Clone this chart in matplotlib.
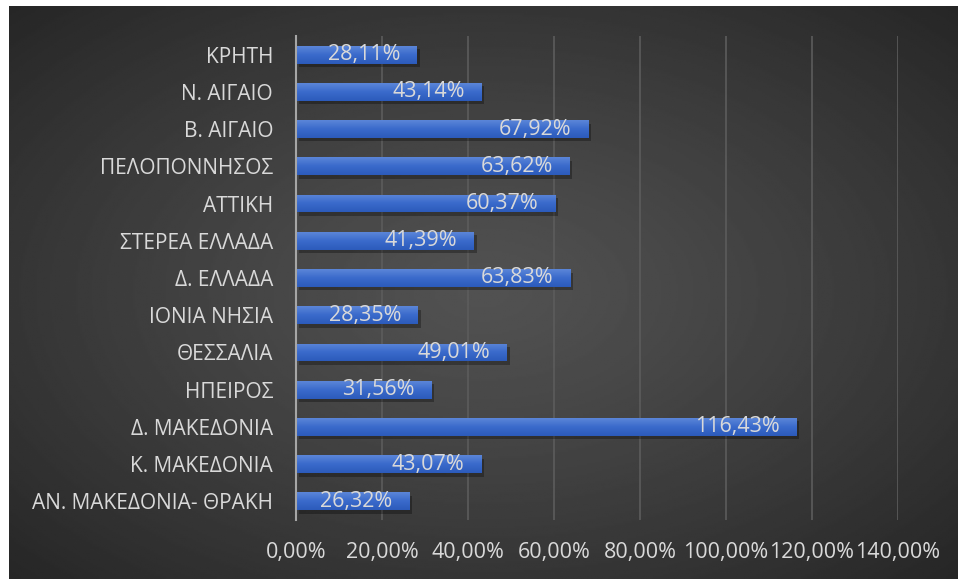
import numpy as np
import matplotlib.pyplot as plt
from matplotlib import patheffects as pe
from matplotlib.colors import LinearSegmentedColormap

regions = [
    "ΑΝ. ΜΑΚΕΔΟΝΙΑ- ΘΡΑΚΗ",
    "Κ. ΜΑΚΕΔΟΝΙΑ",
    "Δ. ΜΑΚΕΔΟΝΙΑ",
    "ΗΠΕΙΡΟΣ",
    "ΘΕΣΣΑΛΙΑ",
    "ΙΟΝΙΑ ΝΗΣΙΑ",
    "Δ. ΕΛΛΑΔΑ",
    "ΣΤΕΡΕΑ ΕΛΛΑΔΑ",
    "ΑΤΤΙΚΗ",
    "ΠΕΛΟΠΟΝΝΗΣΟΣ",
    "Β. ΑΙΓΑΙΟ",
    "Ν. ΑΙΓΑΙΟ",
    "ΚΡΗΤΗ",
]
values = [26.32, 43.07, 116.43, 31.56, 49.01, 28.35, 63.83, 41.39, 60.37, 63.62, 67.92, 43.14, 28.11]
xticks = [0, 20, 40, 60, 80, 100, 120, 140]

plt.rcParams["font.family"] = ["Open Sans", "DejaVu Sans"]

W, H = 958, 579
fig = plt.figure(figsize=(W / 100, H / 100), dpi=100)
fig.patch.set_facecolor("white")

# radial gradient background (dark area starts at x=9, y=6)
bg = fig.add_axes([9 / W, 0, 1 - 9 / W, 1 - 6 / H])
bg.set_axis_off()
yy, xx = np.mgrid[-1:1:300j, -1:1:500j]
r = np.sqrt(xx ** 2 + yy ** 2) / np.sqrt(2)
light, dark = 0.32, 0.15
img = light - (light - dark) * r ** 1.2
bg.imshow(img, cmap="gray", vmin=0, vmax=1, aspect="auto", extent=[0, 1, 0, 1])

ax = fig.add_axes([296 / W, 1 - 520 / H, (898 - 296) / W, (520 - 36) / H])
ax.patch.set_alpha(0)

y = np.arange(len(regions))
shadow = [pe.SimplePatchShadow(offset=(2, -2.5), shadow_rgbFace="black", alpha=0.3), pe.Normal()]
bars = ax.barh(y, values, height=0.48, color="#3f6fcf", zorder=3, path_effects=shadow)

grad = np.linspace(0, 1, 50).reshape(-1, 1)
cm = LinearSegmentedColormap.from_list("b", ["#5b86d8", "#3a6acb", "#2c5bbb"])
for b in bars:
    x0, y0 = b.get_x(), b.get_y()
    w, h = b.get_width(), b.get_height()
    im = ax.imshow(grad, cmap=cm, aspect="auto", extent=[x0, x0 + w, y0, y0 + h],
                   origin="upper", zorder=4)
    im.set_clip_path(b)

for yi, v in zip(y, values):
    ax.text(v - 3.9, yi, f"{v:.2f}%".replace(".", ","), ha="right", va="center",
            color="#d9d9d9", fontsize=15.5, zorder=5)

ax.set_xlim(0, 140)
ax.set_ylim(-0.5, len(regions) - 0.5)
ax.set_xticks(xticks)
ax.set_xticklabels([f"{t:.2f}%".replace(".", ",") for t in xticks])
ax.set_yticks(y)
ax.set_yticklabels(regions)
ax.tick_params(axis="both", length=0, colors="#d9d9d9")
ax.tick_params(axis="x", pad=16, labelsize=15.5)
ax.tick_params(axis="y", pad=16.5, labelsize=15)
ax.grid(axis="x", color="#5c5c5c", linewidth=1.2, zorder=0)
for s in ["top", "right", "bottom"]:
    ax.spines[s].set_visible(False)
ax.spines["left"].set_color("#a6a6a6")
ax.spines["left"].set_linewidth(1.5)
ax.spines["left"].set_zorder(6)

fig.savefig("out.png", dpi=100)
